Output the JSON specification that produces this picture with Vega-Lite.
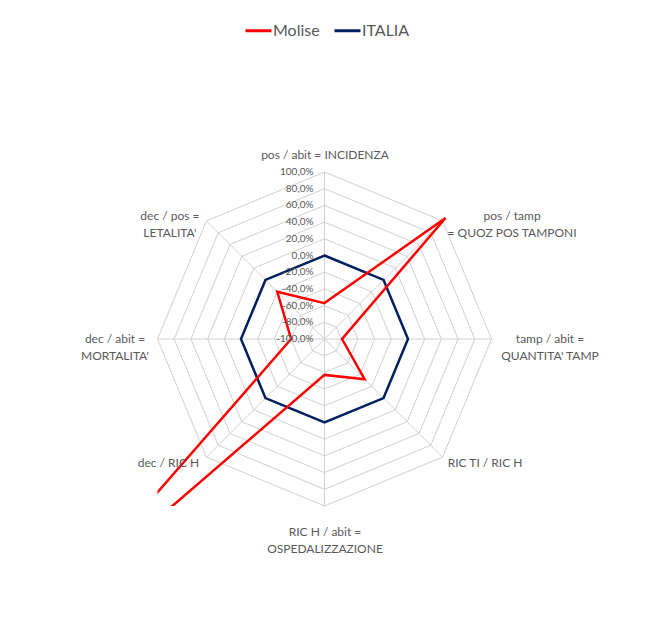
{
  "$schema": "https://vega.github.io/schema/vega-lite/v6.json",
  "width": 334,
  "height": 334,
  "autosize": {"type": "none"},
  "padding": {"left": 157.5, "top": 172, "right": 159.5, "bottom": 119},
  "background": "white",
  "config": {
    "view": {"stroke": null},
    "font": "Lato",
    "locale": {"number": {"decimal": ",", "thousands": ".", "grouping": [3], "currency": ["", " €"], "minus": "-"}}
  },
  "datasets": {
    "radar": [
      {"series": "Molise", "k": 0, "axis": "INCIDENZA", "value": -0.57},
      {"series": "Molise", "k": 1, "axis": "QUOZ POS TAMPONI", "value": 1.05},
      {"series": "Molise", "k": 2, "axis": "QUANTITA' TAMP", "value": -0.79},
      {"series": "Molise", "k": 3, "axis": "RIC TI / RIC H", "value": -0.32},
      {"series": "Molise", "k": 4, "axis": "OSPEDALIZZAZIONE", "value": -0.57},
      {"series": "Molise", "k": 5, "axis": "dec / RIC H", "value": 3.4},
      {"series": "Molise", "k": 6, "axis": "MORTALITA'", "value": -0.6},
      {"series": "Molise", "k": 7, "axis": "LETALITA'", "value": -0.2},
      {"series": "ITALIA", "k": 0, "axis": "INCIDENZA", "value": 0},
      {"series": "ITALIA", "k": 1, "axis": "QUOZ POS TAMPONI", "value": 0},
      {"series": "ITALIA", "k": 2, "axis": "QUANTITA' TAMP", "value": 0},
      {"series": "ITALIA", "k": 3, "axis": "RIC TI / RIC H", "value": 0},
      {"series": "ITALIA", "k": 4, "axis": "OSPEDALIZZAZIONE", "value": 0},
      {"series": "ITALIA", "k": 5, "axis": "dec / RIC H", "value": 0},
      {"series": "ITALIA", "k": 6, "axis": "MORTALITA'", "value": 0},
      {"series": "ITALIA", "k": 7, "axis": "LETALITA'", "value": 0}
    ],
    "grid": [
      {"level": -1, "k": [0,1,2,3,4,5,6,7]},
      {"level": -0.8, "k": [0,1,2,3,4,5,6,7]},
      {"level": -0.6, "k": [0,1,2,3,4,5,6,7]},
      {"level": -0.4, "k": [0,1,2,3,4,5,6,7]},
      {"level": -0.2, "k": [0,1,2,3,4,5,6,7]},
      {"level": 0, "k": [0,1,2,3,4,5,6,7]},
      {"level": 0.2, "k": [0,1,2,3,4,5,6,7]},
      {"level": 0.4, "k": [0,1,2,3,4,5,6,7]},
      {"level": 0.6, "k": [0,1,2,3,4,5,6,7]},
      {"level": 0.8, "k": [0,1,2,3,4,5,6,7]},
      {"level": 1, "k": [0,1,2,3,4,5,6,7]}
    ],
    "labels": [
      {"k": 0, "label": ["pos / abit = INCIDENZA"]},
      {"k": 1, "label": ["pos / tamp", "= QUOZ POS TAMPONI"]},
      {"k": 2, "label": ["tamp / abit =", "QUANTITA' TAMP"]},
      {"k": 3, "label": ["RIC TI / RIC H"]},
      {"k": 4, "label": ["RIC H / abit =", "OSPEDALIZZAZIONE"]},
      {"k": 5, "label": ["dec  / RIC H"]},
      {"k": 6, "label": ["dec / abit =", "MORTALITA'"]},
      {"k": 7, "label": ["dec / pos =", "LETALITA'"]}
    ]
  },
  "encoding": {
    "x": {"field": "x", "type": "quantitative", "scale": {"domain": [-1, 1]}, "axis": null},
    "y": {"field": "y", "type": "quantitative", "scale": {"domain": [-1, 1]}, "axis": null}
  },
  "layer": [
    {
      "data": {"name": "grid"},
      "transform": [
        {"flatten": ["k"]},
        {"calculate": "(datum.level + 1) / 2", "as": "r"},
        {"calculate": "datum.r * sin(datum.k * PI / 4)", "as": "x"},
        {"calculate": "datum.r * cos(datum.k * PI / 4)", "as": "y"}
      ],
      "mark": {"type": "line", "interpolate": "linear-closed", "stroke": "#d0d0d0", "strokeWidth": 1},
      "encoding": {"detail": {"field": "level"}, "order": {"field": "k", "type": "quantitative"}}
    },
    {
      "data": {"name": "labels"},
      "transform": [
        {"calculate": "0", "as": "x"},
        {"calculate": "0", "as": "y"},
        {"calculate": "sin(datum.k * PI / 4)", "as": "ex"},
        {"calculate": "cos(datum.k * PI / 4)", "as": "ey"}
      ],
      "mark": {"type": "rule", "stroke": "#d0d0d0", "strokeWidth": 1},
      "encoding": {"x2": {"field": "ex"}, "y2": {"field": "ey"}}
    },
    {
      "data": {"name": "radar"},
      "transform": [
        {"filter": "datum.series == 'ITALIA'"},
        {"calculate": "(datum.value + 1) / 2", "as": "r"},
        {"calculate": "datum.r * sin(datum.k * PI / 4)", "as": "x"},
        {"calculate": "datum.r * cos(datum.k * PI / 4)", "as": "y"}
      ],
      "mark": {"type": "line", "interpolate": "linear-closed", "strokeWidth": 2.5, "clip": true},
      "encoding": {
        "order": {"field": "k", "type": "quantitative"},
        "color": {
          "field": "series", "type": "nominal",
          "scale": {"domain": ["Molise", "ITALIA"], "range": ["#ff0000", "#002060"]},
          "legend": {
            "title": null, "orient": "none", "direction": "horizontal",
            "legendX": 86.5, "legendY": -156, "padding": 0,
            "symbolType": "stroke", "symbolSize": 676, "symbolStrokeWidth": 3,
            "labelFontSize": 16, "labelColor": "#595959", "labelOffset": 0,
            "columnPadding": 8, "labelFont": "Lato"
          }
        }
      }
    },
    {
      "data": {"name": "radar"},
      "transform": [
        {"filter": "datum.series == 'Molise'"},
        {"calculate": "(datum.value + 1) / 2", "as": "r"},
        {"calculate": "datum.r * sin(datum.k * PI / 4)", "as": "x"},
        {"calculate": "datum.r * cos(datum.k * PI / 4)", "as": "y"}
      ],
      "mark": {"type": "line", "interpolate": "linear-closed", "strokeWidth": 2.5, "clip": true},
      "encoding": {
        "order": {"field": "k", "type": "quantitative"},
        "color": {"field": "series", "type": "nominal"}
      }
    },
    {
      "data": {"name": "grid"},
      "transform": [
        {"calculate": "0", "as": "x"},
        {"calculate": "(datum.level + 1) / 2", "as": "y"}
      ],
      "mark": {"type": "text", "align": "right", "baseline": "middle", "dx": -11, "fontSize": 10, "color": "#595959"},
      "encoding": {"text": {"field": "level", "type": "quantitative", "format": ".1%"}}
    },
    {
      "data": {"name": "labels"},
      "transform": [
        {"filter": "datum.k == 0"},
        {"calculate": "sin(datum.k * PI / 4)", "as": "x"},
        {"calculate": "cos(datum.k * PI / 4)", "as": "y"}
      ],
      "mark": {"type": "text", "align": "center", "baseline": "middle", "dx": 0.5, "dy": -17, "fontSize": 12, "lineHeight": 17, "color": "#595959"},
      "encoding": {"text": {"field": "label"}}
    },
    {
      "data": {"name": "labels"},
      "transform": [
        {"filter": "datum.k == 1"},
        {"calculate": "sin(datum.k * PI / 4)", "as": "x"},
        {"calculate": "cos(datum.k * PI / 4)", "as": "y"}
      ],
      "mark": {"type": "text", "align": "center", "baseline": "middle", "dx": 69.5, "dy": -4.5, "fontSize": 12, "lineHeight": 17, "color": "#595959"},
      "encoding": {"text": {"field": "label"}}
    },
    {
      "data": {"name": "labels"},
      "transform": [
        {"filter": "datum.k == 2"},
        {"calculate": "sin(datum.k * PI / 4)", "as": "x"},
        {"calculate": "cos(datum.k * PI / 4)", "as": "y"}
      ],
      "mark": {"type": "text", "align": "center", "baseline": "middle", "dx": 58.5, "dy": 0, "fontSize": 12, "lineHeight": 17, "color": "#595959"},
      "encoding": {"text": {"field": "label"}}
    },
    {
      "data": {"name": "labels"},
      "transform": [
        {"filter": "datum.k == 3"},
        {"calculate": "sin(datum.k * PI / 4)", "as": "x"},
        {"calculate": "cos(datum.k * PI / 4)", "as": "y"}
      ],
      "mark": {"type": "text", "align": "center", "baseline": "middle", "dx": 42.5, "dy": 6, "fontSize": 12, "lineHeight": 17, "color": "#595959"},
      "encoding": {"text": {"field": "label"}}
    },
    {
      "data": {"name": "labels"},
      "transform": [
        {"filter": "datum.k == 4"},
        {"calculate": "sin(datum.k * PI / 4)", "as": "x"},
        {"calculate": "cos(datum.k * PI / 4)", "as": "y"}
      ],
      "mark": {"type": "text", "align": "center", "baseline": "middle", "dx": 0.5, "dy": 26, "fontSize": 12, "lineHeight": 17, "color": "#595959"},
      "encoding": {"text": {"field": "label"}}
    },
    {
      "data": {"name": "labels"},
      "transform": [
        {"filter": "datum.k == 5"},
        {"calculate": "sin(datum.k * PI / 4)", "as": "x"},
        {"calculate": "cos(datum.k * PI / 4)", "as": "y"}
      ],
      "mark": {"type": "text", "align": "center", "baseline": "middle", "dx": -38, "dy": 6, "fontSize": 12, "lineHeight": 17, "color": "#595959"},
      "encoding": {"text": {"field": "label"}}
    },
    {
      "data": {"name": "labels"},
      "transform": [
        {"filter": "datum.k == 6"},
        {"calculate": "sin(datum.k * PI / 4)", "as": "x"},
        {"calculate": "cos(datum.k * PI / 4)", "as": "y"}
      ],
      "mark": {"type": "text", "align": "center", "baseline": "middle", "dx": -42.5, "dy": 0, "fontSize": 12, "lineHeight": 17, "color": "#595959"},
      "encoding": {"text": {"field": "label"}}
    },
    {
      "data": {"name": "labels"},
      "transform": [
        {"filter": "datum.k == 7"},
        {"calculate": "sin(datum.k * PI / 4)", "as": "x"},
        {"calculate": "cos(datum.k * PI / 4)", "as": "y"}
      ],
      "mark": {"type": "text", "align": "center", "baseline": "middle", "dx": -36.5, "dy": -4.5, "fontSize": 12, "lineHeight": 17, "color": "#595959"},
      "encoding": {"text": {"field": "label"}}
    }
  ]
}
